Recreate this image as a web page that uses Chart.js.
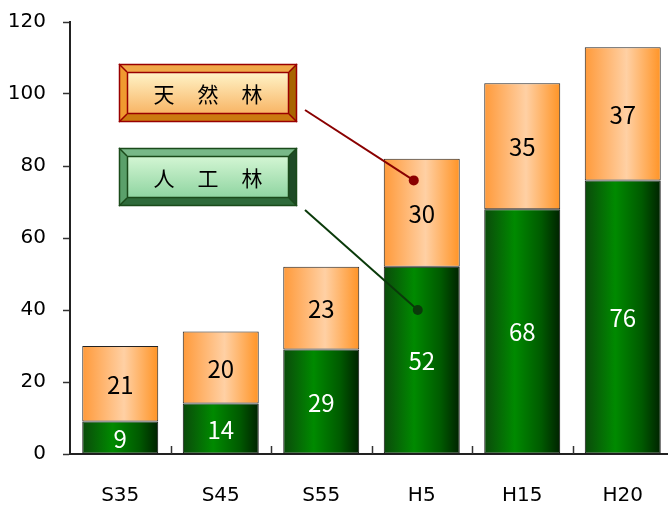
<!DOCTYPE html>
<html lang="ja">
<head>
    <meta charset="UTF-8" />
    <title>人工林・天然林</title>
    <script src="https://cdn.jsdelivr.net/npm/chart.js"></script>
    <style>
        html, body { margin: 0; padding: 0; background: #fff; overflow: hidden; }
        #wrap { width: 673px; height: 505px; }
    </style>
</head>
<body>
    <div id="wrap"><canvas id="forestChart"></canvas></div>

    <script>
        // data
        const categories = ["S35", "S45", "S55", "H5", "H15", "H20"];
        const plantedForest = [9, 14, 29, 52, 68, 76];   // 人工林
        const naturalForest = [21, 20, 23, 30, 35, 37];  // 天然林
        const yTicks = { min: 0, max: 120, step: 20 };

        const barPct = 0.756;

        // horizontal gradient across each bar, built from the scale positions
        function barGradient(stops) {
            return (c) => {
                const chart = c.chart;
                const area = chart.chartArea;
                if (!area || c.type !== "data") return stops[0][1];
                const xs = chart.scales.x;
                const cx = xs.getPixelForValue(c.dataIndex);
                const half = (area.right - area.left) / categories.length * barPct / 2;
                const g = chart.ctx.createLinearGradient(cx - half, 0, cx + half, 0);
                stops.forEach(s => g.addColorStop(s[0], s[1]));
                return g;
            };
        }

        const greenStops = [[0, "#0b4a0b"], [0.4, "#008a00"], [0.75, "#005a00"], [1, "#002200"]];
        const orangeStops = [[0, "#ff9a3a"], [0.55, "#ffd0a4"], [1, "#ff9426"]];

        // value labels inside the bars
        const valueLabels = {
            id: "valueLabels",
            afterDatasetsDraw(chart) {
                const ctx = chart.ctx;
                ctx.save();
                ctx.font = "24px 'Noto Sans CJK JP'";
                ctx.textAlign = "center";
                ctx.textBaseline = "middle";
                chart.data.datasets.forEach((ds, di) => {
                    const meta = chart.getDatasetMeta(di);
                    ctx.fillStyle = di === 0 ? "#ffffff" : "#000000";
                    meta.data.forEach((el, i) => {
                        ctx.fillText(String(ds.data[i]), el.x, (el.y + el.base) / 2 + 1);
                    });
                });
                ctx.restore();
            }
        };

        // small tick marks on the category boundaries, pointing up
        const xTickMarks = {
            id: "xTickMarks",
            afterDraw(chart) {
                const ctx = chart.ctx;
                const a = chart.chartArea;
                const step = (a.right - a.left) / categories.length;
                ctx.save();
                ctx.strokeStyle = "#333";
                ctx.lineWidth = 1.5;
                for (let i = 1; i <= categories.length; i++) {
                    const x = Math.round(a.left + step * i) + 0.5;
                    ctx.beginPath();
                    ctx.moveTo(x, a.bottom);
                    ctx.lineTo(x, a.bottom - 8);
                    ctx.stroke();
                }
                ctx.restore();
            }
        };

        function bevelBox(ctx, x, y, w, h, b, c) {
            // outer
            ctx.fillStyle = c.top;
            ctx.beginPath(); ctx.moveTo(x, y); ctx.lineTo(x + w, y); ctx.lineTo(x + w - b, y + b); ctx.lineTo(x + b, y + b); ctx.closePath(); ctx.fill();
            ctx.fillStyle = c.left;
            ctx.beginPath(); ctx.moveTo(x, y); ctx.lineTo(x + b, y + b); ctx.lineTo(x + b, y + h - b); ctx.lineTo(x, y + h); ctx.closePath(); ctx.fill();
            ctx.fillStyle = c.right;
            ctx.beginPath(); ctx.moveTo(x + w, y); ctx.lineTo(x + w, y + h); ctx.lineTo(x + w - b, y + h - b); ctx.lineTo(x + w - b, y + b); ctx.closePath(); ctx.fill();
            ctx.fillStyle = c.bottom;
            ctx.beginPath(); ctx.moveTo(x, y + h); ctx.lineTo(x + b, y + h - b); ctx.lineTo(x + w - b, y + h - b); ctx.lineTo(x + w, y + h); ctx.closePath(); ctx.fill();
            // face
            const g = ctx.createLinearGradient(0, y + b, 0, y + h - b);
            g.addColorStop(0, c.face0);
            g.addColorStop(1, c.face1);
            ctx.fillStyle = g;
            ctx.fillRect(x + b, y + b, w - 2 * b, h - 2 * b);
            // lines
            ctx.strokeStyle = c.line;
            ctx.lineWidth = 1.5;
            ctx.strokeRect(x + 0.5, y + 0.5, w - 1, h - 1);
            ctx.strokeRect(x + b + 0.5, y + b + 0.5, w - 2 * b - 1, h - 2 * b - 1);
            ctx.beginPath();
            ctx.moveTo(x, y); ctx.lineTo(x + b, y + b);
            ctx.moveTo(x + w, y); ctx.lineTo(x + w - b, y + b);
            ctx.moveTo(x, y + h); ctx.lineTo(x + b, y + h - b);
            ctx.moveTo(x + w, y + h); ctx.lineTo(x + w - b, y + h - b);
            ctx.stroke();
        }

        const callouts = {
            id: "callouts",
            afterDraw(chart) {
                const ctx = chart.ctx;
                const xs = chart.scales.x, ys = chart.scales.y;
                const a = chart.chartArea;
                const bx = a.left + 49, bw = 178, bh = 58;
                const items = [
                    { text: ["天", "然", "林"], by: 64, val: 76, dx: -8, from: [305, 110], dot: "#8a0000",
                      c: { top: "#f0a848", left: "#f09a30", right: "#a86400", bottom: "#cc7a10", face0: "#fff4c8", face1: "#f8b464", line: "#990000" } },
                    { text: ["人", "工", "林"], by: 148, val: 40, dx: -4, from: [305, 210], dot: "#0a3a0a",
                      c: { top: "#78b888", left: "#5aa06a", right: "#1e4a26", bottom: "#2e6a3a", face0: "#d4f6d4", face1: "#8ed4a0", line: "#1a4a1a" } }
                ];
                ctx.save();
                items.forEach(it => {
                    const px = xs.getPixelForValue(3) + it.dx;
                    const py = ys.getPixelForValue(it.val);
                    ctx.strokeStyle = it.dot;
                    ctx.lineWidth = 2;
                    ctx.beginPath();
                    ctx.moveTo(it.from[0], it.from[1]);
                    ctx.lineTo(px, py);
                    ctx.stroke();
                    ctx.fillStyle = it.dot;
                    ctx.beginPath();
                    ctx.arc(px, py, 5, 0, Math.PI * 2);
                    ctx.fill();

                    bevelBox(ctx, bx, it.by, bw, bh, 8, it.c);
                    ctx.fillStyle = "#000";
                    ctx.font = "21px 'Noto Sans CJK JP'";
                    ctx.textAlign = "center";
                    ctx.textBaseline = "middle";
                    it.text.forEach((ch, k) => {
                        ctx.fillText(ch, bx + bw / 2 + (k - 1) * 44, it.by + bh / 2 + 1);
                    });
                });
                ctx.restore();
            }
        };

        const ctx = document.getElementById("forestChart").getContext("2d");

        const forestChart = new Chart(ctx, {
            type: "bar",
            data: {
                labels: categories,
                datasets: [
                    {
                        label: "人工林",
                        data: plantedForest,
                        backgroundColor: barGradient(greenStops),
                        borderColor: "#111",
                        borderWidth: 1,
                        borderSkipped: false,
                        barPercentage: barPct,
                        categoryPercentage: 1
                    },
                    {
                        label: "天然林",
                        data: naturalForest,
                        backgroundColor: barGradient(orangeStops),
                        borderColor: "#222",
                        borderWidth: 1,
                        borderSkipped: false,
                        barPercentage: barPct,
                        categoryPercentage: 1
                    }
                ]
            },
            options: {
                responsive: true,
                maintainAspectRatio: false,
                animation: false,
                layout: { padding: { top: 22, right: 0, left: 0, bottom: 0 } },
                plugins: {
                    legend: { display: false },
                    tooltip: { enabled: false }
                },
                scales: {
                    x: {
                        stacked: true,
                        grid: { display: false },
                        border: { display: true, color: "#222", width: 2 },
                        ticks: {
                            color: "#000",
                            padding: 22,
                            font: { family: "'DejaVu Sans', sans-serif", size: 20 }
                        },
                        afterFit: (s) => { s.height = 51; }
                    },
                    y: {
                        stacked: true,
                        min: yTicks.min,
                        max: yTicks.max,
                        grid: { drawOnChartArea: false, drawTicks: true, tickLength: 7, color: "#333", tickWidth: 1.5 },
                        border: { display: true, color: "#222", width: 2 },
                        ticks: {
                            stepSize: yTicks.step,
                            color: "#000",
                            padding: 17,
                            font: { family: "'DejaVu Sans', sans-serif", size: 20 }
                        },
                        afterFit: (s) => { s.width = 70; s.paddingTop = 0; s.paddingBottom = 0; }
                    }
                }
            },
            plugins: [valueLabels, xTickMarks, callouts]
        });
    </script>
</body>
</html>
